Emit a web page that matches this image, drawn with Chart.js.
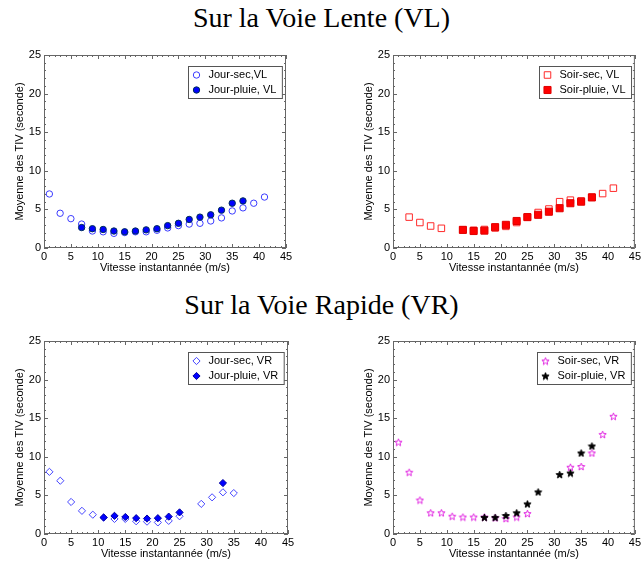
<!DOCTYPE html>
<html>
<head>
<meta charset="utf-8">
<script src="https://cdn.jsdelivr.net/npm/chart.js@4/dist/chart.umd.min.js"></script>
<style>
  body { margin: 0; background: #fff; width: 643px; height: 564px; position: relative; overflow: hidden; }
  .sup { position: absolute; left: 0; width: 643px; text-align: center; font-family: 'Liberation Serif', serif; font-size: 28px; line-height: 32px; color: #000; }
  canvas { position: absolute; }
</style>
</head>
<body>
<div class="sup" style="top:2px">Sur la Voie Lente (VL)</div>
<div class="sup" style="top:289px">Sur la Voie Rapide (VR)</div>
<canvas id="vl-jour" width="300" height="236" style="left:0;top:40px"></canvas>
<canvas id="vl-soir" width="300" height="236" style="left:343px;top:40px"></canvas>
<canvas id="vr-jour" width="300" height="236" style="left:0;top:326px"></canvas>
<canvas id="vr-soir" width="300" height="236" style="left:343px;top:326px"></canvas>
<script>
// Données (vitesse en m/s, TIV moyen en s)
const xTitle = 'Vitesse instantannée (m/s)';
const yTitle = 'Moyenne des TIV (seconde)';

// Voie lente, jour
const vlJourSecX = [1, 3, 5, 7, 9, 11, 13, 15, 17, 19, 21, 23, 25, 27, 29, 31, 33, 35, 37, 39, 41];
const vlJourSecY = [7.0, 4.5, 3.8, 3.1, 2.2, 2.1, 1.9, 2.0, 2.1, 2.1, 2.3, 2.6, 2.9, 3.1, 3.2, 3.5, 3.9, 4.8, 5.2, 5.8, 6.6];
const vlJourPluieX = [7, 9, 11, 13, 15, 17, 19, 21, 23, 25, 27, 29, 31, 33, 35, 37];
const vlJourPluieY = [2.65, 2.5, 2.4, 2.2, 2.1, 2.2, 2.35, 2.5, 2.9, 3.2, 3.7, 4.0, 4.3, 4.9, 5.8, 6.1];

// Voie lente, soir
const vlSoirSecX = [3, 5, 7, 9, 13, 15, 17, 19, 21, 23, 25, 27, 29, 31, 33, 35, 37, 39, 41];
const vlSoirSecY = [4.0, 3.3, 2.85, 2.55, 2.35, 2.3, 2.4, 2.6, 2.8, 3.3, 4.0, 4.6, 5.05, 6.0, 6.2, 6.1, 6.6, 7.05, 7.75];
const vlSoirPluieX = [13, 15, 17, 19, 21, 23, 25, 27, 29, 31, 33, 35, 37];
const vlSoirPluieY = [2.35, 2.2, 2.25, 2.7, 3.0, 3.5, 4.0, 4.3, 4.7, 5.15, 5.8, 6.0, 6.55];

// Voie rapide, jour
const vrJourSecX = [1, 3, 5, 7, 9, 11, 13, 15, 17, 19, 21, 23, 25, 29, 31, 33, 35];
const vrJourSecY = [8.05, 6.9, 4.15, 3.0, 2.5, 2.1, 1.95, 1.95, 1.65, 1.6, 1.5, 1.7, 2.3, 3.9, 4.75, 5.4, 5.3];
const vrJourPluieX = [11, 13, 15, 17, 19, 21, 23, 25, 33];
const vrJourPluieY = [2.15, 2.35, 2.2, 2.05, 2.0, 2.05, 2.25, 2.8, 6.6];

// Voie rapide, soir
const vrSoirSecX = [1, 3, 5, 7, 9, 11, 13, 15, 17, 19, 21, 23, 25, 33, 35, 37, 39, 41];
const vrSoirSecY = [11.9, 8.0, 4.4, 2.75, 2.75, 2.3, 2.2, 2.2, 2.2, 2.1, 2.0, 2.2, 2.65, 8.65, 8.75, 10.5, 12.9, 15.25];
const vrSoirPluieX = [17, 19, 21, 23, 25, 27, 31, 33, 35, 37];
const vrSoirPluieY = [2.15, 2.15, 2.4, 2.75, 3.9, 5.45, 7.7, 7.9, 10.5, 11.4];

const pts = (xs, ys) => xs.map((x, i) => ({ x: x, y: ys[i] }));

// Pentagramme façon Matlab
function makeStar(fill, stroke) {
  const c = document.createElement('canvas');
  c.width = 9; c.height = 9;
  const g = c.getContext('2d');
  g.beginPath();
  for (let i = 0; i < 10; i++) {
    const r = i % 2 ? 1.6 : 3.8;
    const a = -Math.PI / 2 + i * Math.PI / 5;
    const px = 4.5 + r * Math.cos(a), py = 4.9 + r * Math.sin(a);
    if (i) g.lineTo(px, py); else g.moveTo(px, py);
  }
  g.closePath();
  if (fill) { g.fillStyle = fill; g.fill(); }
  g.strokeStyle = stroke; g.lineWidth = 1; g.stroke();
  return c;
}

const sansFont = "'Liberation Sans', Arial, sans-serif";

// Cadre + graduations internes (majeures tous les 5, mineures tous les 1)
const frameTicks = {
  id: 'frameTicks',
  afterDatasetsDraw(chart) {
    const { ctx, chartArea: a, scales: { x, y } } = chart;
    ctx.save();
    ctx.strokeStyle = '#666';
    ctx.lineWidth = 1;
    ctx.strokeRect(a.left + 0.5, a.top + 0.5, a.width - 1, a.height - 1);
    ctx.beginPath();
    for (let v = x.min; v <= x.max; v++) {
      const px = Math.round(x.getPixelForValue(v)) + 0.5;
      const len = v % 5 === 0 ? 4 : 2;
      ctx.moveTo(px, a.bottom); ctx.lineTo(px, a.bottom - len);
      ctx.moveTo(px, a.top); ctx.lineTo(px, a.top + len);
    }
    for (let v = y.min; v <= y.max; v++) {
      const py = Math.round(y.getPixelForValue(v)) + 0.5;
      const len = v % 5 === 0 ? 4 : 2;
      ctx.moveTo(a.left, py); ctx.lineTo(a.left + len, py);
      ctx.moveTo(a.right, py); ctx.lineTo(a.right - len, py);
    }
    ctx.stroke();
    ctx.restore();
  }
};

// Légende encadrée en haut à droite
const boxLegend = {
  id: 'boxLegend',
  afterDraw(chart) {
    const { ctx, chartArea: a } = chart;
    const sets = chart.data.datasets;
    ctx.save();
    ctx.font = '11px ' + sansFont;
    const tw = Math.max(...sets.map(d => ctx.measureText(d.label).width));
    const w = 20 + tw + 6, h = 32;
    const bx = Math.round(a.right - 4 - w) + 0.5, by = Math.round(a.top + 11) + 0.5;
    ctx.fillStyle = '#fff';
    ctx.fillRect(bx, by, w, h);
    ctx.strokeStyle = '#555';
    ctx.lineWidth = 1;
    ctx.strokeRect(bx, by, w, h);
    sets.forEach((d, i) => {
      const yy = by + 8.5 + i * 15;
      ctx.fillStyle = d.backgroundColor;
      ctx.strokeStyle = d.borderColor;
      ctx.lineWidth = d.borderWidth;
      Chart.helpers.drawPoint(ctx, { pointStyle: d.pointStyle, radius: d.pointRadius, rotation: 0, borderWidth: d.borderWidth }, bx + 8, yy);
      ctx.fillStyle = '#000';
      ctx.textBaseline = 'middle';
      ctx.fillText(d.label, bx + 20, yy);
    });
    ctx.restore();
  }
};

function makePanel(id, sets, yWidth, yTitlePad, padRight) {
  const tickFont = { family: sansFont, size: 11 };
  return new Chart(document.getElementById(id), {
    type: 'scatter',
    data: { datasets: sets },
    options: {
      responsive: false,
      animation: false,
      layout: { padding: { top: 15, right: padRight, left: 0, bottom: 0 } },
      plugins: { legend: { display: false }, tooltip: { enabled: false } },
      scales: {
        x: {
          type: 'linear', min: 0, max: 45,
          ticks: { stepSize: 5, padding: 2, color: '#000', font: tickFont, maxRotation: 0 },
          grid: { display: false, drawTicks: false, tickLength: 0 },
          border: { display: false },
          title: { display: true, text: xTitle, color: '#000', font: tickFont, padding: { top: 0, bottom: 1 } },
          afterFit: s => { s.height = 28; }
        },
        y: {
          min: 0, max: 25,
          ticks: { stepSize: 5, padding: 3, color: '#000', font: tickFont },
          grid: { display: false, drawTicks: false, tickLength: 0 },
          border: { display: false },
          title: { display: true, text: yTitle, color: '#000', font: tickFont, padding: { top: yTitlePad, bottom: 0 } },
          afterFit: s => { s.width = yWidth; }
        }
      }
    },
    plugins: [frameTicks, boxLegend]
  });
}

makePanel('vl-jour', [
  { label: 'Jour-sec,VL', data: pts(vlJourSecX, vlJourSecY), order: 1,
    pointStyle: 'circle', pointRadius: 3.2, borderWidth: 1, borderColor: '#3a3aff', backgroundColor: 'rgba(0,0,0,0)' },
  { label: 'Jour-pluie, VL', data: pts(vlJourPluieX, vlJourPluieY), order: 0,
    pointStyle: 'circle', pointRadius: 3.2, borderWidth: 1, borderColor: '#00305a', backgroundColor: '#0000ff' }
], 44, 13.4, 14);

makePanel('vl-soir', [
  { label: 'Soir-sec, VL', data: pts(vlSoirSecX, vlSoirSecY), order: 1,
    pointStyle: 'rect', pointRadius: 4.6, borderWidth: 1, borderColor: '#ff2a2a', backgroundColor: 'rgba(0,0,0,0)' },
  { label: 'Soir-pluie, VL', data: pts(vlSoirPluieX, vlSoirPluieY), order: 0,
    pointStyle: 'rect', pointRadius: 5, borderWidth: 1, borderColor: '#e00000', backgroundColor: '#ff0000' }
], 50, 19.4, 7);

makePanel('vr-jour', [
  { label: 'Jour-sec, VR', data: pts(vrJourSecX, vrJourSecY), order: 1,
    pointStyle: 'rectRot', pointRadius: 3.6, borderWidth: 1, borderColor: '#4545ff', backgroundColor: 'rgba(0,0,0,0)' },
  { label: 'Jour-pluie, VR', data: pts(vrJourPluieX, vrJourPluieY), order: 0,
    pointStyle: 'rectRot', pointRadius: 3.6, borderWidth: 1, borderColor: '#0000a0', backgroundColor: '#0000ff' }
], 44, 13.4, 12);

makePanel('vr-soir', [
  { label: 'Soir-sec, VR', data: pts(vrSoirSecX, vrSoirSecY), order: 1,
    pointStyle: makeStar(null, '#e020e0'), pointRadius: 4, borderWidth: 1, borderColor: '#e020e0', backgroundColor: 'rgba(0,0,0,0)' },
  { label: 'Soir-pluie, VR', data: pts(vrSoirPluieX, vrSoirPluieY), order: 0,
    pointStyle: makeStar('#000', '#000'), pointRadius: 4, borderWidth: 1, borderColor: '#000', backgroundColor: '#000' }
], 50, 19.4, 7);
</script>
</body>
</html>
